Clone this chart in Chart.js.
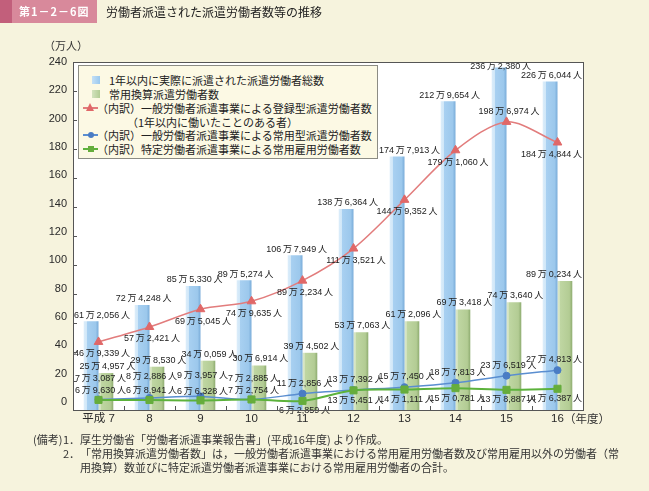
<!DOCTYPE html>
<html><head><meta charset="utf-8">
<script src="https://cdn.jsdelivr.net/npm/chart.js@4.4.0/dist/chart.umd.min.js"></script>
<style>
html,body{margin:0;padding:0;background:#f6f3dd;width:649px;height:491px;overflow:hidden;font-family:"Noto Sans CJK JP",sans-serif;color:#2a2a2a;}
#wrap{position:relative;width:649px;height:491px;}
#cw{position:absolute;left:0;top:0;width:649px;height:491px;}
.abs{position:absolute;white-space:nowrap;}
#tag{left:0;top:0;width:97px;height:23px;background:#d8899b;}
#tag .strip{position:absolute;left:0;top:0;width:12px;height:23px;background:#c25f7b;}
#tag .t{position:absolute;left:19px;top:0;line-height:23px;font-size:11px;font-weight:bold;color:#fff;letter-spacing:1px;}
#title{left:106px;top:3px;font-size:12px;line-height:18px;color:#222;}
#unit{left:44px;top:37px;font-size:11px;line-height:16px;color:#333;}
#nendo{left:564px;top:410px;font-size:11.5px;line-height:16px;color:#333;}
#legend{left:78px;top:65px;width:300px;height:94px;background:#fcf9e4;border:1px solid #8c8c84;box-sizing:border-box;}
#legend .row{position:absolute;font-size:11px;line-height:14px;color:#222;white-space:nowrap;}
#legend .sq{position:absolute;width:8px;height:8px;}
#legend .ln{position:absolute;height:2px;width:15px;}
#legend .mk{position:absolute;}
#notes{left:33px;top:433px;font-size:11px;line-height:13.5px;color:#333;}
#notes .n{position:absolute;white-space:nowrap;}
</style></head>
<body><div id="wrap">
<div id="cw"><canvas id="c"></canvas></div>
<div id="tag" class="abs"><div class="strip"></div><div class="t">第1－2－6図</div></div>
<div id="title" class="abs">労働者派遣された派遣労働者数等の推移</div>
<div id="unit" class="abs">（万人）</div>
<div id="nendo" class="abs">（年度）</div>
<div id="legend" class="abs">
  <div class="sq" style="left:13px;top:10px;background:linear-gradient(90deg,#c4e0f6,#9ac8ee);"></div>
  <div class="row" style="left:30px;top:7px;">1年以内に実際に派遣された派遣労働者総数</div>
  <div class="sq" style="left:13px;top:24px;background:linear-gradient(90deg,#d3e3bd,#b2cc94);"></div>
  <div class="row" style="left:30px;top:21px;">常用換算派遣労働者数</div>
  <div class="ln" style="left:4px;top:41px;background:#e27c7c;"></div>
  <div class="mk" style="left:7px;top:37px;width:0;height:0;border-left:4.5px solid transparent;border-right:4.5px solid transparent;border-bottom:8px solid #e06868;"></div>
  <div class="row" style="left:18px;top:35px;">（内訳）一般労働者派遣事業による登録型派遣労働者数</div>
  <div class="row" style="left:48px;top:48.5px;">（1年以内に働いたことのある者）</div>
  <div class="ln" style="left:4px;top:68px;background:#5a8ed0;"></div>
  <div class="mk" style="left:8.5px;top:66px;width:6px;height:6px;border-radius:50%;background:#4a7cc4;"></div>
  <div class="row" style="left:18px;top:62px;">（内訳）一般労働者派遣事業による常用型派遣労働者数</div>
  <div class="ln" style="left:4px;top:82px;background:#5cb23c;"></div>
  <div class="mk" style="left:8.5px;top:80px;width:6px;height:6px;background:#66ad3c;"></div>
  <div class="row" style="left:18px;top:76px;">（内訳）特定労働者派遣事業による常用雇用労働者数</div>
</div>
<div id="notes" class="abs">
  <div class="n" style="left:0;top:0;">(備考)</div>
  <div class="n" style="left:30px;top:0;">1．</div>
  <div class="n" style="left:47px;top:0;">厚生労働省「労働者派遣事業報告書」(平成16年度) より作成。</div>
  <div class="n" style="left:30px;top:14px;">2．</div>
  <div class="n" style="left:47px;top:14px;">「常用換算派遣労働者数」は，一般労働者派遣事業における常用雇用労働者数及び常用雇用以外の労働者（常</div>
  <div class="n" style="left:47px;top:28px;">用換算）数並びに特定派遣労働者派遣事業における常用雇用労働者の合計。</div>
</div>
</div>
<script>
// ---- data (万人) ----
const categories = ['平成 7','8','9','10','11','12','13','14','15','16'];
const totalDispatched = [61.2056, 72.4248, 85.5330, 89.5274, 106.7949, 138.6364, 174.7913, 212.9654, 236.2380, 226.6044];
const fullTimeEquivalent = [25.4957, 29.8530, 34.0059, 30.6914, 39.4502, 53.7063, 61.2096, 69.3418, 74.3640, 89.0234];
const registeredType = [46.9339, 57.2421, 69.5045, 74.9635, 89.2234, 111.3521, 144.9352, 179.1060, 198.6974, 184.4844];
const generalRegularType = [7.3087, 8.2886, 9.3957, 7.2885, 11.2856, 13.7392, 15.7450, 18.7813, 23.6519, 27.4813];
const specificRegular = [6.9630, 6.8941, 6.6328, 7.2754, 6.2859, 13.5451, 14.1111, 15.0781, 13.8887, 14.6387];
const yTicks = [0, 20, 40, 60, 80, 100, 120, 140, 160, 180, 200, 220, 240];

const seriesNames = [
  '1年以内に実際に派遣された派遣労働者総数',
  '常用換算派遣労働者数',
  '（内訳）一般労働者派遣事業による登録型派遣労働者数（1年以内に働いたことのある者）',
  '（内訳）一般労働者派遣事業による常用型派遣労働者数',
  '（内訳）特定労働者派遣事業による常用雇用労働者数'
];

const TS = '\u2009';
function fmt(v){
  const t = Math.round(v*10000);
  const man = Math.floor(t/10000);
  const r = String(t % 10000).padStart(4,'0');
  return man + TS + '万' + TS + r.slice(0,1) + ',' + r.slice(1) + TS + '人';
}

const CAT_PCT = 0.58;
function barGradient(stops, fallback){
  return function(c){
    const ch = c.chart, xs = ch.scales.x;
    if (c.type !== 'data' || !xs || !ch.chartArea) return fallback;
    const n = categories.length;
    const catW = xs.width / n;
    const bw = catW * CAT_PCT / 2;
    const cx = xs.getPixelForValue(c.dataIndex) + (c.datasetIndex === 0 ? -bw/2 : bw/2);
    const x0 = cx - bw/2, x1 = cx + bw/2;
    if (!isFinite(x0) || !isFinite(x1) || x1 <= x0) return fallback;
    const g = ch.ctx.createLinearGradient(x0, 0, x1, 0);
    stops.forEach(s => g.addColorStop(s[0], s[1]));
    return g;
  };
}
const blueStops = [[0,'#dcedfa'],[0.2,'#d0e7f8'],[0.24,'#a8d0f1'],[0.8,'#9cc8ec'],[1,'#79acd9']];
const greenStops = [[0,'#dde9cb'],[0.15,'#d2e2bd'],[0.2,'#bfd6a2'],[0.8,'#b3cc94'],[1,'#8eac70']];

// legend box (HTML overlay) footprint, so value labels keep clear of it
const LEGEND_RIGHT = 378, LEGEND_BOTTOM = 159;

const valueLabels = {
  id: 'valueLabels',
  afterDatasetsDraw(chart){
    const ctx = chart.ctx, area = chart.chartArea;
    ctx.save();
    ctx.font = '9px "Liberation Sans","Noto Sans CJK JP",sans-serif';
    ctx.fillStyle = '#222';
    ctx.textAlign = 'center';
    ctx.textBaseline = 'middle';
    chart.data.datasets.forEach((ds, di) => {
      const lab = ds.valueLabel; if (!lab) return;
      const meta = chart.getDatasetMeta(di);
      meta.data.forEach((el, i) => {
        const txt = fmt(ds.data[i]);
        const w = ctx.measureText(txt).width;
        let x = el.x + lab.dx;
        let y = el.y + lab.dy(i);
        x = Math.min(Math.max(x, area.left + w/2 + 1), area.right - w/2 - 1);
        if (y - 5 < LEGEND_BOTTOM && x - w/2 < LEGEND_RIGHT + 1) x = LEGEND_RIGHT + 1 + w/2;
        y = Math.max(y, area.top + 5);
        ctx.fillText(txt, x, y);
      });
    });
    ctx.restore();
  }
};

const frame = {
  id: 'frame',
  beforeDraw(chart){
    const {ctx, chartArea:a} = chart;
    ctx.save(); ctx.fillStyle = '#ffffff';
    ctx.fillRect(a.left, a.top, a.right - a.left, a.bottom - a.top);
    ctx.restore();
  },
  afterDraw(chart){
    const {ctx, chartArea:a, scales} = chart;
    ctx.save();
    ctx.strokeStyle = '#555'; ctx.lineWidth = 1;
    ctx.strokeRect(Math.round(a.left)+0.5, Math.round(a.top)+0.5, Math.round(a.right-a.left), Math.round(a.bottom-a.top));
    ctx.beginPath();
    yTicks.forEach(v => {
      const y = Math.round(scales.y.getPixelForValue(v)) + 0.5;
      ctx.moveTo(a.left, y); ctx.lineTo(a.left + 4, y);
    });
    const n = categories.length, catW = scales.x.width / n;
    for (let i = 0; i < n - 1; i++){
      const x = Math.round(scales.x.getPixelForValue(i) + catW/2) + 0.5;
      ctx.moveTo(x, a.bottom); ctx.lineTo(x, a.bottom - 4);
    }
    ctx.stroke();
    ctx.restore();
  }
};

const tickFont = {family:'"Liberation Sans","Noto Sans CJK JP",sans-serif', size:11};

new Chart(document.getElementById('c'), {
  data: {
    labels: categories,
    datasets: [
      { type:'bar', label: seriesNames[0], data: totalDispatched, yAxisID:'y', order:3,
        backgroundColor: barGradient(blueStops, '#a4cdef'), borderWidth:0,
        categoryPercentage: CAT_PCT, barPercentage: 1.0,
        valueLabel: {dx: 1.5, dy: () => -6} },
      { type:'bar', label: seriesNames[1], data: fullTimeEquivalent, yAxisID:'y', order:3,
        backgroundColor: barGradient(greenStops, '#bcd39c'), borderWidth:0,
        categoryPercentage: CAT_PCT, barPercentage: 1.0,
        valueLabel: {dx: 1.5, dy: () => -6.5} },
      { type:'line', label: seriesNames[2], data: registeredType, yAxisID:'y', order:2,
        borderColor:'#e27c7c', borderWidth:1.5, tension:0.3, fill:false,
        pointStyle:'triangle', pointRadius:5, pointBackgroundColor:'#e06868', pointBorderColor:'#e06868', pointBorderWidth:1,
        valueLabel: {dx: 2.5, dy: i => (i === 8 ? -10 : 12)} },
      { type:'line', label: seriesNames[3], data: generalRegularType, yAxisID:'y', order:1,
        borderColor:'#5a8ed0', borderWidth:1.5, tension:0.3, fill:false,
        pointStyle:'circle', pointRadius:3.5, pointBackgroundColor:'#4a7cc4', pointBorderColor:'#4a7cc4', pointBorderWidth:1,
        valueLabel: {dx: 2, dy: i => (i < 4 ? -21 : -10.5)} },
      { type:'line', label: seriesNames[4], data: specificRegular, yAxisID:'y', order:0,
        borderColor:'#5cb23c', borderWidth:2, tension:0.3, fill:false,
        pointStyle:'rect', pointRadius:5, pointBackgroundColor:'#66ad3c', pointBorderColor:'#66ad3c', pointBorderWidth:1,
        valueLabel: {dx: 2, dy: i => (i < 4 ? -9 : 10)} }
    ]
  },
  options: {
    responsive: true, maintainAspectRatio: false, animation: false, devicePixelRatio: 1,
    layout: { padding: { left: 0, top: 62, right: 66, bottom: 0 } },
    plugins: { legend: { display: false }, tooltip: { enabled: false } },
    scales: {
      x: { type:'category', offset: true, position:'bottom',
           grid: { display:false, drawTicks:false }, border: { display:false },
           ticks: { font: {family: tickFont.family, size: 11.5}, color:'#2a2a2a', padding: 2, maxRotation:0, autoSkip:false },
           afterFit: s => { s.height = 81; } },
      yl: { type:'linear', position:'left', min:-5.7, max:240,
            afterBuildTicks: s => { s.ticks = yTicks.map(v => ({value: v})); },
            grid: { display:false, drawTicks:false }, border: { display:false },
            ticks: { font: tickFont, color:'#2a2a2a', padding: 6 },
            afterFit: s => { s.width = 73; } },
      y: { type:'linear', display:false, min:0, max:240 }
    }
  },
  plugins: [frame, valueLabels]
});
</script>
</body></html>
